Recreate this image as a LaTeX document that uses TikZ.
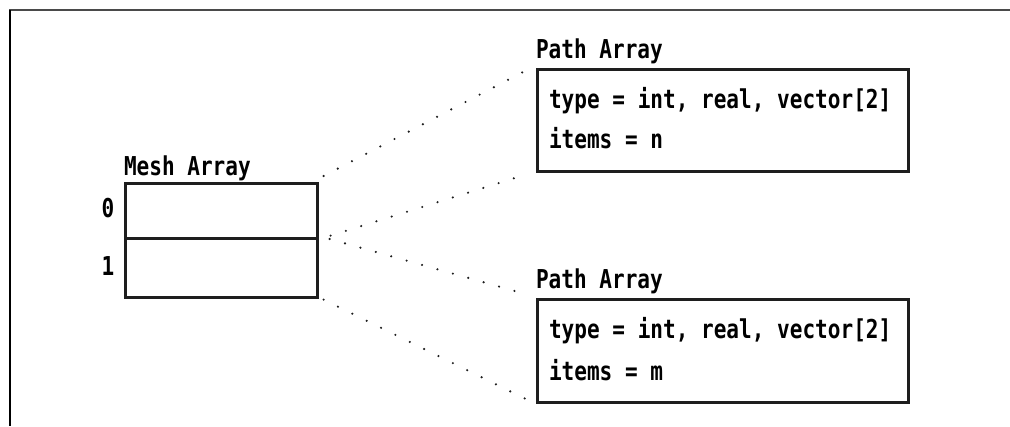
\documentclass[tikz,border=0pt]{standalone}
\usepackage{fontspec}
\usetikzlibrary{calc}
\newfontfamily\labelfont[FakeStretch=0.81]{DejaVu Sans Mono}
\definecolor{ink}{HTML}{1E1E1E}
\definecolor{rule}{HTML}{4A4A4A}
\tikzset{
  lbl/.style={anchor=base west, inner sep=0pt, outer sep=0pt,
    font=\labelfont\bfseries\fontsize{26}{30}\selectfont},
  cell/.style={draw=ink, line width=2.6pt, anchor=north west, inner sep=0pt,
    minimum width=192pt},
  pathbox/.style={draw=ink, line width=2.6pt, anchor=north west, inner sep=0pt,
    minimum width=371pt, minimum height=102pt},
  dots/.style={ink, line width=2.4pt, line cap=round, dash pattern=on 0pt off 16pt},
}
\begin{document}
\begin{tikzpicture}[x=1pt,y=-1pt]
\useasboundingbox (0,0) rectangle (1010,426);
% page frame
\draw[rule, line width=2.6pt] (9,10) -- (1010,10);
\draw[black, line width=2.4pt] (10,10) -- (10,426);

% mesh array with two cells
\node[cell, minimum height=55pt] (cell0) at (124,182) {};
\node[cell, minimum height=59pt] (cell1) at (124,237) {};
\node[lbl] (meshlbl) at (124,175) {Mesh Array};
\node[lbl, anchor=base] (idx0) at (108,217) {0};
\node[lbl, anchor=base] (idx1) at (108,275) {1};

% first path array
\node[pathbox] (pathA) at (536,68) {};
\node[lbl] (pathAlbl) at (536,58) {Path Array};
\node[lbl] (pathAtype) at (549,108) {type = int, real, vector[2]};
\node[lbl] (pathAitems) at (549,148) {items = n};

% second path array
\node[pathbox, minimum height=103pt] (pathB) at (536,298) {};
\node[lbl] (pathBlbl) at (536,288) {Path Array};
\node[lbl] (pathBtype) at (549,338) {type = int, real, vector[2]};
\node[lbl] (pathBitems) at (549,380) {items = m};

% dotted expansion lines
\draw[dots] ($(cell0.north east)+(5,-6)$) -- ($(pathA.north west)+(-13,4)$);
\draw[dots] ($(cell0.south east)+(12,-4)$) -- ($(pathA.south west)+(-7,1)$);
\draw[dots] ($(cell1.north east)+(11,2)$) -- ($(pathB.north west)+(-7,-3)$);
\draw[dots] ($(cell1.south east)+(5,1)$) -- ($(pathB.south west)+(-11,-5)$);
\end{tikzpicture}
\end{document}
